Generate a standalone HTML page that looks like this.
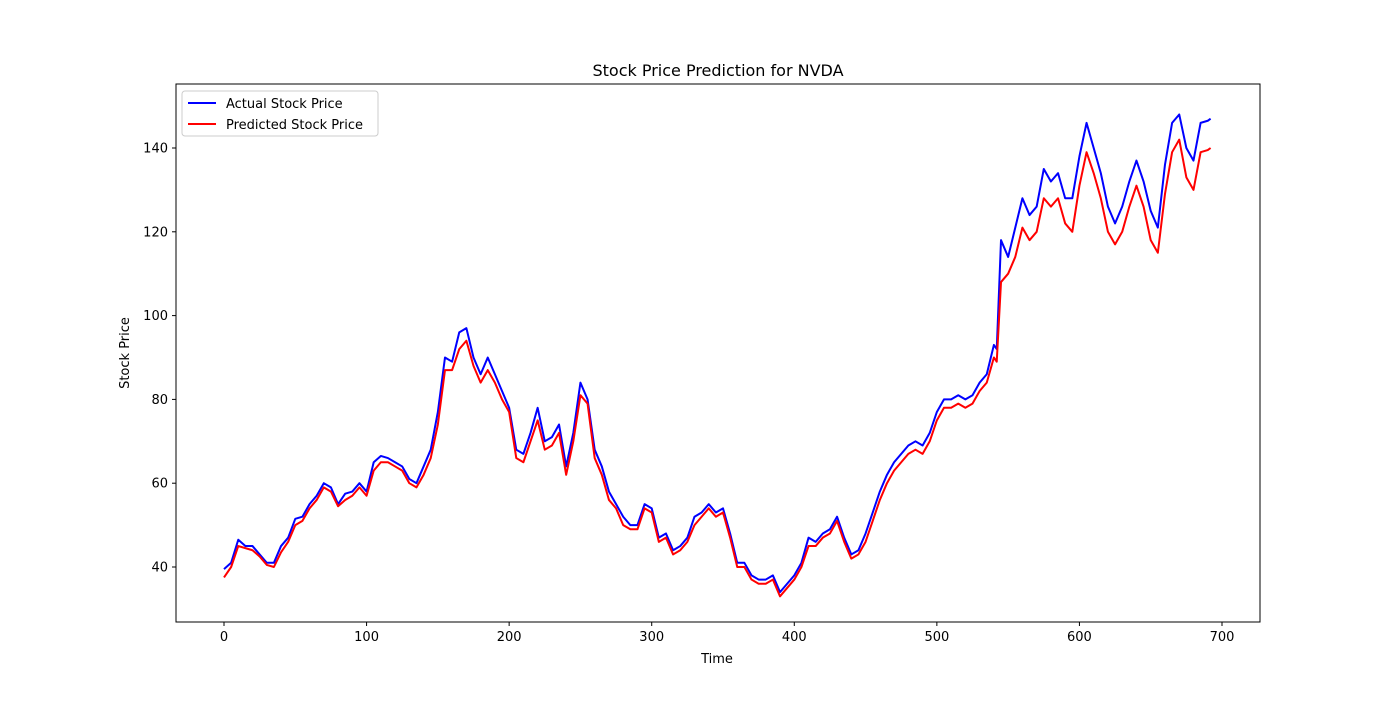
<!DOCTYPE html>
<html><head><meta charset="utf-8"><style>
body{margin:0;background:#fff;}
svg text{font-family:"DejaVu Sans","Liberation Sans",sans-serif;fill:#000;}
</style></head><body>
<svg width="1400" height="700" id="c">
<rect x="0" y="0" width="1400" height="700" fill="#fff"/>
<text x="718" y="76" font-size="16" text-anchor="middle">Stock Price Prediction for NVDA</text>
<text x="717" y="663" font-size="13" text-anchor="middle">Time</text>
<text x="129" y="353" font-size="13" text-anchor="middle" transform="rotate(-90 129 353)">Stock Price</text>
<g id="plot"></g>
<rect x="176" y="84" width="1084" height="538" fill="none" stroke="#000" stroke-width="1"/>
<g>
<rect x="182" y="91" width="196" height="45" rx="3" fill="#fff" fill-opacity="0.8" stroke="#ccc"/>
<line x1="188" y1="103" x2="216" y2="103" stroke="#0000ff" stroke-width="2"/>
<text x="226" y="108" font-size="13">Actual Stock Price</text>
<line x1="188" y1="124" x2="216" y2="124" stroke="#ff0000" stroke-width="2"/>
<text x="226" y="129" font-size="13">Predicted Stock Price</text>
</g>
</svg>
<script>
const timeIdx=[0,5,10,15,20,25,30,35,40,45,50,55,60,65,70,75,80,85,90,95,100,105,110,115,120,125,130,135,140,145,150,155,160,165,170,175,180,185,190,195,200,205,210,215,220,225,230,235,240,245,250,255,260,265,270,275,280,285,290,295,300,305,310,315,320,325,330,335,340,345,350,355,360,365,370,375,380,385,390,395,400,405,410,415,420,425,430,435,440,445,450,455,460,465,470,475,480,485,490,495,500,505,510,515,520,525,530,535,540,542,545,550,555,560,565,570,575,580,585,590,595,600,605,610,615,620,625,630,635,640,645,650,655,660,665,670,675,680,685,690,692];
const actual=[39.5,41,46.5,45,45,43,41,41,45,47,51.5,52,55,57,60,59,55,57.5,58,60,58,65,66.5,66,65,64,61,60,64,68,77,90,89,96,97,90,86,90,86,82,78,68,67,72,78,70,71,74,64,72,84,80,68,64,58,55,52,50,50,55,54,47,48,44,45,47,52,53,55,53,54,48,41,41,38,37,37,38,34,36,38,41,47,46,48,49,52,47,43,44,48,53,58,62,65,67,69,70,69,72,77,80,80,81,80,81,84,86,93,92,118,114,121,128,124,126,135,132,134,128,128,138,146,140,134,126,122,126,132,137,132,125,121,136,146,148,140,137,146,146.5,147];
const predicted=[37.5,40,45,44.5,44,42.5,40.5,40,43.5,46,50,51,54,56,59,58,54.5,56,57,59,57,63,65,65,64,63,60,59,62,66,74,87,87,92,94,88,84,87,84,80,77,66,65,70,75,68,69,72,62,70,81,79,66,62,56,54,50,49,49,54,53,46,47,43,44,46,50,52,54,52,53,47,40,40,37,36,36,37,33,35,37,40,45,45,47,48,51,46,42,43,46,51,56,60,63,65,67,68,67,70,75,78,78,79,78,79,82,84,90,89,108,110,114,121,118,120,128,126,128,122,120,131,139,134,128,120,117,120,126,131,126,118,115,129,139,142,133,130,139,139.5,140];
const yTicks=[40,60,80,100,120,140];
const xTicks=[0,100,200,300,400,500,600,700];
const X=v=>224+v*(998/700);
const Y=v=>567-(v-40)*(419/100);
const NS="http://www.w3.org/2000/svg";
const svg=document.getElementById('c');
const plot=document.getElementById('plot');
function mk(t,a){const e=document.createElementNS(NS,t);for(const k in a)e.setAttribute(k,a[k]);return e;}
yTicks.forEach(t=>{
  const l=mk('line',{x1:172,x2:176,y1:Y(t),y2:Y(t),stroke:'#000'});
  
  
  svg.appendChild(l);
  const tx=mk('text',{x:168,y:Y(t)+4.5,'font-size':13,'text-anchor':'end'});
  
  
  tx.textContent=t;svg.appendChild(tx);
});
xTicks.forEach(t=>{
  const l=mk('line',{x1:X(t),x2:X(t),y1:622,y2:626,stroke:'#000'});
  
  
  svg.appendChild(l);
  const tx=mk('text',{x:X(t),y:641,'font-size':13,'text-anchor':'middle'});
  
  
  tx.textContent=t;svg.appendChild(tx);
});
function line(vals,color,name){
  const p=mk('polyline',{points:vals.map((v,i)=>X(timeIdx[i])+','+Y(v)).join(' '),fill:'none',stroke:color,'stroke-width':2,'stroke-linejoin':'round'});
  
  
  plot.appendChild(p);
}
line(actual,'#0000ff','actual-price-line');
line(predicted,'#ff0000','predicted-price-line');
</script>
</body></html>
